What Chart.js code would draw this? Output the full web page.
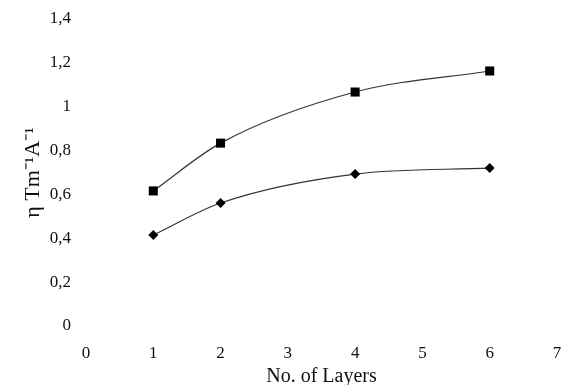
<!DOCTYPE html>
<html>
<head>
<meta charset="utf-8">
<script src="https://cdn.jsdelivr.net/npm/chart.js@4/dist/chart.umd.min.js"></script>
<style>
  html, body { margin: 0; padding: 0; background: #fff; }
  .wrap { width: 568px; height: 385px; }
</style>
</head>
<body>
<div class="wrap"><canvas id="chart" width="568" height="385"></canvas></div>
<script>
// layers on the x axis
const layers = [1, 2, 4, 6];
// upper curve (squares) and lower curve (diamonds)
const squareSeries = [0.616, 0.834, 1.067, 1.163];
const diamondSeries = [0.415, 0.561, 0.693, 0.72];

const xTicks = [0, 1, 2, 3, 4, 5, 6, 7];
const yTicks = [0, 0.2, 0.4, 0.6, 0.8, 1, 1.2, 1.4];

const font = 'Liberation Serif, Times New Roman, serif';

const toPoints = vals => layers.map((x, i) => ({ x, y: vals[i] }));

new Chart(document.getElementById('chart'), {
  type: 'line',
  data: {
    datasets: [
      {
        data: toPoints(squareSeries),
        borderColor: '#333',
        borderWidth: 1.2,
        pointStyle: 'rect',
        pointRadius: 6.4,
        pointBackgroundColor: '#000',
        pointBorderColor: '#000',
        pointBorderWidth: 0,
        cubicInterpolationMode: 'monotone'
      },
      {
        data: toPoints(diamondSeries),
        borderColor: '#333',
        borderWidth: 1.2,
        pointStyle: 'rectRot',
        pointRadius: 5,
        pointBackgroundColor: '#000',
        pointBorderColor: '#000',
        pointBorderWidth: 0,
        cubicInterpolationMode: 'monotone'
      }
    ]
  },
  options: {
    responsive: false,
    animation: false,
    layout: { padding: { left: 0, right: 11, top: 19, bottom: 0 } },
    plugins: { legend: { display: false }, tooltip: { enabled: false } },
    scales: {
      x: {
        type: 'linear',
        min: 0,
        max: 7,
        afterBuildTicks: s => { s.ticks = xTicks.map(v => ({ value: v })); },
        afterFit: s => { s.height = 59; s.paddingLeft = 0; s.paddingRight = 0; },
        grid: { display: false, drawTicks: false },
        border: { display: false },
        ticks: { color: '#111', padding: 17, font: { family: font, size: 17 } },
        title: {
          display: true,
          text: 'No. of Layers',
          color: '#111',
          padding: { top: 4, bottom: -4 },
          font: { family: font, size: 20 }
        }
      },
      y: {
        min: 0,
        max: 1.4,
        afterBuildTicks: s => { s.ticks = yTicks.map(v => ({ value: v })); },
        afterFit: s => { s.width = 86; s.paddingTop = 0; s.paddingBottom = 0; },
        grid: { display: false, drawTicks: false },
        border: { display: false },
        ticks: {
          color: '#111',
          padding: 15,
          font: { family: font, size: 17 },
          callback: v => String(Math.round(v * 10) / 10).replace('.', ',')
        },
        title: {
          display: true,
          text: 'η Tm⁻¹A⁻¹',
          color: '#111',
          padding: { top: 20, bottom: 0 },
          font: { family: font, size: 22 }
        }
      }
    }
  }
});
</script>
</body>
</html>
